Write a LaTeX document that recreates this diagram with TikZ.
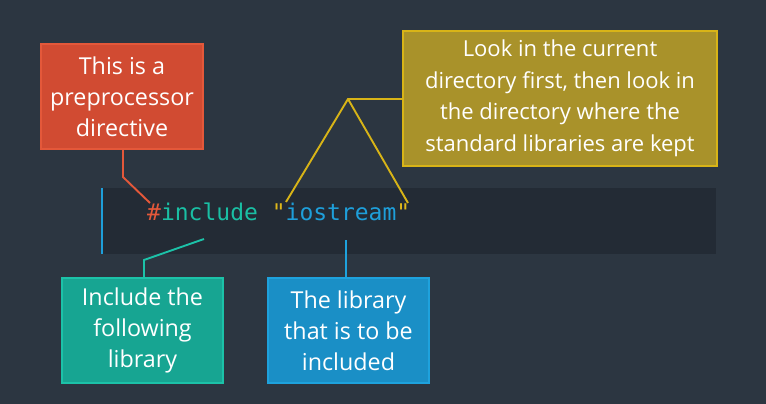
\documentclass[tikz,border=0pt]{standalone}
\usepackage{fontspec}
\setmainfont{Open Sans}
\newfontfamily\codefont{DejaVu Sans Mono}
\definecolor{bg}{HTML}{2C3641}
\definecolor{band}{HTML}{232B35}
\definecolor{redf}{HTML}{D14B32}
\definecolor{redb}{HTML}{E4583A}
\definecolor{yelf}{HTML}{A9922A}
\definecolor{yelb}{HTML}{D8B417}
\definecolor{tealf}{HTML}{17A592}
\definecolor{tealb}{HTML}{1CC2A8}
\definecolor{bluef}{HTML}{1A8FC6}
\definecolor{blueb}{HTML}{1EA2DD}
\definecolor{codered}{HTML}{E4583A}
\definecolor{codeteal}{HTML}{1ABFA4}
\definecolor{codeyel}{HTML}{E0B81A}
\definecolor{codeblue}{HTML}{1E9FDA}
\tikzset{
  callout/.style={draw, line width=1.5pt, inner sep=0pt, text=white, align=center,
    font=\fontsize{23.3}{31}\selectfont},
  conn/.style={line width=1.9pt},
}
\begin{document}
\begin{tikzpicture}[x=1pt,y=-1pt]
\fill[bg] (0,0) rectangle (766,404);
\useasboundingbox (0,0) rectangle (766,404);
% code band
\fill[band] (101,188) rectangle (716,254);
\draw[codeblue, line width=2pt] (101.5,188) -- (101.5,254);
\node[anchor=base west, inner sep=0pt, font=\codefont\fontsize{23}{28}\selectfont] (code) at (147,220)
  {{\color{codered}\#}{\color{codeteal}include} {\color{codeyel}"}{\color{codeblue}iostream}{\color{codeyel}"}};
% boxes
\node[callout, fill=redf, draw=redb, minimum width=162pt, minimum height=105pt] (red) at (122,96.5)
  {This is a\\preprocessor\\directive};
\node[callout, fill=yelf, draw=yelb, minimum width=314pt, minimum height=135pt,
      font=\fontsize{22}{31.5}\selectfont] (yel) at (560,98.5)
  {Look in the current\\directory first, then look in\\the directory where the\\standard libraries are kept};
\node[callout, fill=tealf, draw=tealb, minimum width=161pt, minimum height=105pt] (teal) at (142.5,330.5)
  {Include the\\following\\library};
\node[callout, fill=bluef, draw=blueb, minimum width=161pt, minimum height=105pt] (blue) at (348.5,330.5)
  {The library\\that is to be\\included};
% connector points
\coordinate (rbend) at (123,177);
\coordinate (rend) at (150,203);
\coordinate (yv) at (348,99);
\coordinate (yl) at (286,202);
\coordinate (yr) at (408,203);
\coordinate (tbend) at (144,260);
\coordinate (tend) at (204,239);
\coordinate (bend) at (346,240);
% connectors
\draw[conn, redb] (red.south -| rbend) -- (rbend) -- (rend);
\draw[conn, yelb] (yel.west |- yv) -- (yv) -- (yl);
\draw[conn, yelb] (yv) -- (yr);
\draw[conn, tealb] (teal.north -| tbend) -- (tbend) -- (tend);
\draw[conn, blueb] (blue.north -| bend) -- (bend);
\end{tikzpicture}
\end{document}
